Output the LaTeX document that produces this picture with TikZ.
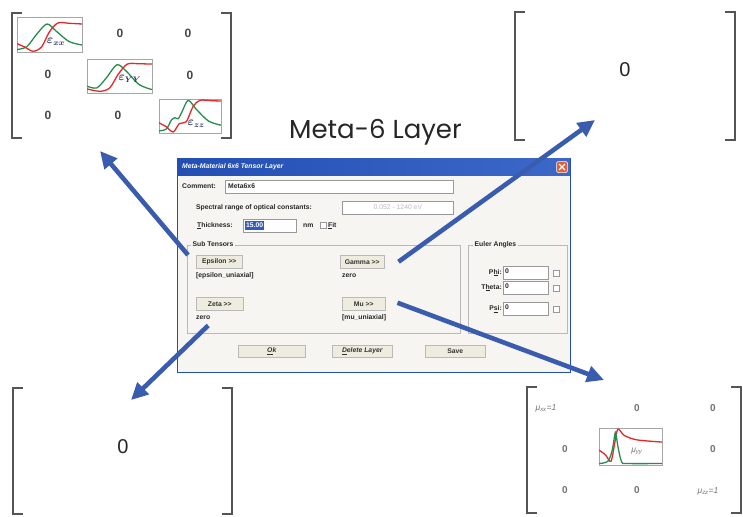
\documentclass[tikz,border=0pt]{standalone}
\usepackage{fontspec}
\setmainfont{Liberation Sans}
\newfontfamily\titlefont{Poppins}
\usetikzlibrary{arrows.meta,calc}
\definecolor{arrowblue}{RGB}{58,92,174}
\definecolor{plotgreen}{RGB}{40,140,80}
\definecolor{plotred}{RGB}{228,40,40}
\definecolor{dlgbg}{RGB}{246,245,241}
\definecolor{btnbg}{RGB}{238,236,222}
\definecolor{titleL}{RGB}{35,78,180}
\definecolor{titleR}{RGB}{60,105,200}
\definecolor{bracketgray}{RGB}{85,85,85}
\definecolor{zerogray}{RGB}{70,70,70}
\definecolor{lblblue}{RGB}{40,50,95}
\tikzset{
  bracket/.style={draw=bracketgray, line width=1.6pt},
  zero/.style={font=\fontsize{12}{12}\selectfont\bfseries, text=zerogray, inner sep=0pt},
  bigzero/.style={font=\fontsize{20}{20}\selectfont, text=black!85, inner sep=0pt},
  smallzero/.style={font=\fontsize{10}{10}\selectfont\bfseries, text=gray!90!black, inner sep=0pt},
  mulabel/.style={font=\fontsize{8.5}{9}\selectfont\itshape, text=gray!90!black, inner sep=0pt},
  plotbox/.style={draw=gray!70, line width=0.8pt, fill=white},
  greenline/.style={draw=plotgreen, line width=1.3pt},
  redline/.style={draw=plotred, line width=1.3pt},
  plotlbl/.style={font=\fontsize{12}{12}\selectfont\boldmath, text=lblblue, inner sep=0pt},
  dlgtext/.style={font=\fontsize{6.8}{7.5}\selectfont\bfseries, text=black!85, inner sep=0pt,
    text height=5pt, text depth=1.5pt},
  field/.style={draw=gray!80, fill=white, line width=0.7pt, inner sep=0pt, anchor=north west},
  checkbox/.style={draw=gray!80, fill=white, line width=0.5pt, minimum size=6pt, inner sep=0pt},
  btn/.style={fill=btnbg, draw=gray!55, line width=0.5pt, inner sep=0pt, anchor=north west,
    font=\fontsize{6.8}{7.5}\selectfont\bfseries, text=black!80,
    path picture={\draw[black!60, line width=1.2pt]
      (path picture bounding box.north east) -- (path picture bounding box.south east)
      -- (path picture bounding box.south west);}},
  groupframe/.style={draw=gray!55, line width=0.6pt},
  bigarrow/.style={draw=arrowblue, line width=4.6pt, -{Triangle[length=17pt, width=16pt]}},
}
\newcommand\brkpair[4]{%
  \draw[bracket] (#1+10,#3) -- (#1,#3) -- (#1,#4) -- (#1+10,#4);
  \draw[bracket] (#2-10,#3) -- (#2,#3) -- (#2,#4) -- (#2-10,#4);}
\newcommand\gtgt{\textgreater{}\textgreater}
\begin{document}
\begin{tikzpicture}[x=1pt,y=-1pt]
\useasboundingbox[fill=white] (0,0) rectangle (743,516);

% ---------------- top-left matrix (epsilon)
\brkpair{12}{231}{13}{138}
\begin{scope}[shift={(17,17)}, x=65pt, y=-35pt]
  \draw[plotbox] (0,0) rectangle (1,1);
  \begin{scope}
    \clip (0,0) rectangle (1,1);
    \draw[greenline] plot[smooth] coordinates {(0,0.93) (0.15,0.85) (0.3,0.5) (0.46,0.2) (0.6,0.4) (0.8,0.7) (1,0.8)};
    \draw[redline] plot[smooth] coordinates {(0,0.76) (0.12,0.86) (0.25,0.98) (0.38,0.85) (0.5,0.42) (0.63,0.17) (0.8,0.18) (1,0.2)};
  \end{scope}
  \node[plotlbl] (exx) at (0.6,0.72) {$\varepsilon_{xx}$};
\end{scope}
\node[zero] (e12) at (120,33) {0};
\node[zero] (e13) at (188,33) {0};
\node[zero] (e21) at (48,74) {0};
\begin{scope}[shift={(87,59)}, x=65pt, y=-34pt]
  \draw[plotbox] (0,0) rectangle (1,1);
  \begin{scope}
    \clip (0,0) rectangle (1,1);
    \draw[greenline] plot[smooth] coordinates {(0,0.8) (0.15,0.85) (0.3,0.55) (0.46,0.17) (0.6,0.35) (0.8,0.75) (1,0.9)};
    \draw[redline] plot[smooth] coordinates {(0,0.88) (0.2,0.95) (0.35,0.85) (0.48,0.45) (0.62,0.15) (0.8,0.14) (1,0.15)};
  \end{scope}
  \node[plotlbl] (eyy) at (0.66,0.58) {$\varepsilon_{YY}$};
\end{scope}
\node[zero] (e23) at (190,75) {0};
\node[zero] (e31) at (48,115) {0};
\node[zero] (e32) at (118,115) {0};
\begin{scope}[shift={(159,99)}, x=62pt, y=-34pt]
  \draw[plotbox] (0,0) rectangle (1,1);
  \begin{scope}
    \clip (0,0) rectangle (1,1);
    \draw[greenline] plot[smooth] coordinates {(0,0.94) (0.12,0.88) (0.2,0.62) (0.26,0.55) (0.31,0.58) (0.37,0.38) (0.47,0.04) (0.6,0.3) (0.8,0.65) (1,0.77)};
    \draw[redline] plot[smooth] coordinates {(0,0.7) (0.12,0.82) (0.23,0.97) (0.33,0.72) (0.44,0.67) (0.55,0.22) (0.66,0.04) (0.85,0.05) (1,0.06)};
  \end{scope}
  \node[plotlbl] (ezz) at (0.6,0.74) {$\varepsilon_{zz}$};
\end{scope}

% ---------------- top-right matrix
\brkpair{515}{735}{12}{140}
\node[bigzero] (gz) at (625,70) {0};

% ---------------- bottom-left matrix
\brkpair{13}{232}{388}{514}
\node[bigzero] (zz) at (123,447) {0};

% ---------------- bottom-right matrix (mu)
\brkpair{527}{741}{387}{513}
\node[mulabel] (mxx) at (546,408) {μ\textsubscript{xx}=1};
\node[smallzero] (m12) at (637,408) {0};
\node[smallzero] (m13) at (713,408) {0};
\node[smallzero] (m21) at (565,449) {0};
\begin{scope}[shift={(599,428)}, x=63pt, y=-37pt]
  \draw[plotbox] (0,0) rectangle (1,1);
  \begin{scope}
    \clip (0,0) rectangle (1,1);
    \draw[redline] plot[smooth, tension=0.5] coordinates {(0,0.6) (0.1,0.72) (0.19,0.9) (0.25,0.4) (0.3,0.03) (0.4,0.2) (0.6,0.32) (1,0.38)};
    \draw[greenline] plot[smooth, tension=0.5] coordinates {(0,0.96) (0.14,0.9) (0.21,0.6) (0.26,0.12) (0.3,0.5) (0.36,0.92) (0.45,0.96) (1,0.96)};
  \end{scope}
  \node[mulabel] (myy) at (0.6,0.62) {μ\textsubscript{yy}};
\end{scope}
\node[smallzero] (m23) at (713,449) {0};
\node[smallzero] (m31) at (565,490) {0};
\node[smallzero] (m32) at (637,490) {0};
\node[mulabel] (mzz) at (708,491) {μ\textsubscript{zz}=1};

% ---------------- title
\node[font=\titlefont\fontsize{26}{26}\selectfont, text=black!85, inner sep=0pt, anchor=west] (ttl) at (289,132) {Meta-6 Layer};

% ---------------- dialog
\node[draw=titleL, line width=1.2pt, fill=dlgbg, minimum width=393pt, minimum height=214pt, anchor=north west, inner sep=0pt] (dlg) at (177,158) {};
\node[left color=titleL, right color=titleR, minimum width=393pt, minimum height=17pt, anchor=north west, inner sep=0pt] (tbar) at (177,158) {};
\node[dlgtext, text=white, anchor=west] (tt) at (182,166.5) {\itshape Meta-Material 6x6 Tensor Layer};
\node[fill={rgb,255:red,225;green,95;blue,55}, draw=white, line width=0.5pt, rounded corners=1.5pt, minimum size=11pt, inner sep=0pt] (close) at (562,167) {};
\draw[white, line width=1.2pt] ($(close.center)+(-3,-3)$) -- ($(close.center)+(3,3)$) ($(close.center)+(-3,3)$) -- ($(close.center)+(3,-3)$);

\node[dlgtext, anchor=west] (lcom) at (182,187) {Comment:};
\node[field, minimum width=228pt, minimum height=13pt] (fcom) at (225,180) {};
\node[dlgtext, anchor=west] (tcom) at (228,186.5) {Meta6x6};

\node[dlgtext, anchor=west] (lspec) at (196,207.5) {Spectral range of optical constants:};
\node[field, minimum width=111pt, minimum height=13pt] (fspec) at (342,201) {};
\node[dlgtext, text=gray!55, font=\fontsize{6.8}{7.5}\selectfont] (tspec) at (fspec.center) {0.052 - 1240 eV};

\node[dlgtext, anchor=west] (lthk) at (197,225.5) {\underline{T}hickness:};
\node[field, minimum width=53pt, minimum height=13pt] (fthk) at (243,219) {};
\node[dlgtext, anchor=west, fill={rgb,255:red,50;green,90;blue,190}, text=white, inner sep=1pt] (tthk) at (245,225.5) {15.00};
\node[dlgtext, anchor=west] (lnm) at (303,225.5) {nm};
\node[checkbox] (cfit) at (323,225.5) {};
\node[dlgtext, anchor=west] (lfit) at (328,225.5) {\underline{F}it};

% group frames
\draw[groupframe] (187,245) rectangle (460,333);
\node[dlgtext, fill=dlgbg, inner sep=1.5pt, anchor=west] (lsub) at (191,245) {Sub Tensors};
\draw[groupframe] (468,245) rectangle (567,333);
\node[dlgtext, fill=dlgbg, inner sep=1.5pt, anchor=west] (leul) at (473,245) {Euler Angles};

% sub-tensor buttons
\node[btn, minimum width=46pt, minimum height=13pt] (beps) at (196,255) {Epsilon \gtgt};
\node[dlgtext, anchor=west] (teps) at (196,276) {[epsilon\_uniaxial]};
\node[btn, minimum width=44pt, minimum height=13pt] (bgam) at (340,255) {Gamma \gtgt};
\node[dlgtext, anchor=west] (tgam) at (342,276) {zero};
\node[btn, minimum width=47pt, minimum height=13pt] (bzet) at (196,297) {Zeta \gtgt};
\node[dlgtext, anchor=west] (tzet) at (196,318) {zero};
\node[btn, minimum width=43pt, minimum height=13pt] (bmu) at (342,297) {Mu \gtgt};
\node[dlgtext, anchor=west] (tmu) at (342,318) {[mu\_uniaxial]};

% Euler angles
\node[dlgtext, anchor=east] (lphi) at (502,272.5) {P\underline{h}i:};
\node[field, minimum width=45pt, minimum height=13pt] (fphi) at (503,266) {};
\node[dlgtext, anchor=west] (tphi) at (505,272) {0};
\node[checkbox] (cphi) at (556,273) {};
\node[dlgtext, anchor=east] (lthe) at (502,287.5) {T\underline{h}eta:};
\node[field, minimum width=45pt, minimum height=13pt] (fthe) at (503,281) {};
\node[dlgtext, anchor=west] (tthe) at (505,287) {0};
\node[checkbox] (cthe) at (556,288) {};
\node[dlgtext, anchor=east] (lpsi) at (502,308.5) {P\underline{s}i:};
\node[field, minimum width=45pt, minimum height=13pt] (fpsi) at (503,302) {};
\node[dlgtext, anchor=west] (tpsi) at (505,308) {0};
\node[checkbox] (cpsi) at (556,309) {};

% bottom buttons
\node[btn, minimum width=67pt, minimum height=12pt] (bok) at (238,345) {\itshape\underline{O}k};
\node[btn, minimum width=60pt, minimum height=12pt] (bdel) at (332,345) {\itshape\underline{D}elete Layer};
\node[btn, minimum width=60pt, minimum height=12pt] (bsav) at (425,345) {Save};

% ---------------- arrows
\coordinate (tipE) at (100,151);
\coordinate (tipG) at (595,120);
\coordinate (tipZ) at (131,400);
\coordinate (tipM) at (604,380);
\draw[bigarrow] ([xshift=-8pt]beps.north west) -- (tipE);
\draw[bigarrow] ([xshift=14pt]bgam.east) -- (tipG);
\draw[bigarrow] ([xshift=5pt,yshift=-4pt]tzet.south) -- (tipZ);
\draw[bigarrow] ([xshift=12pt,yshift=1pt]bmu.east) -- (tipM);
\end{tikzpicture}
\end{document}
